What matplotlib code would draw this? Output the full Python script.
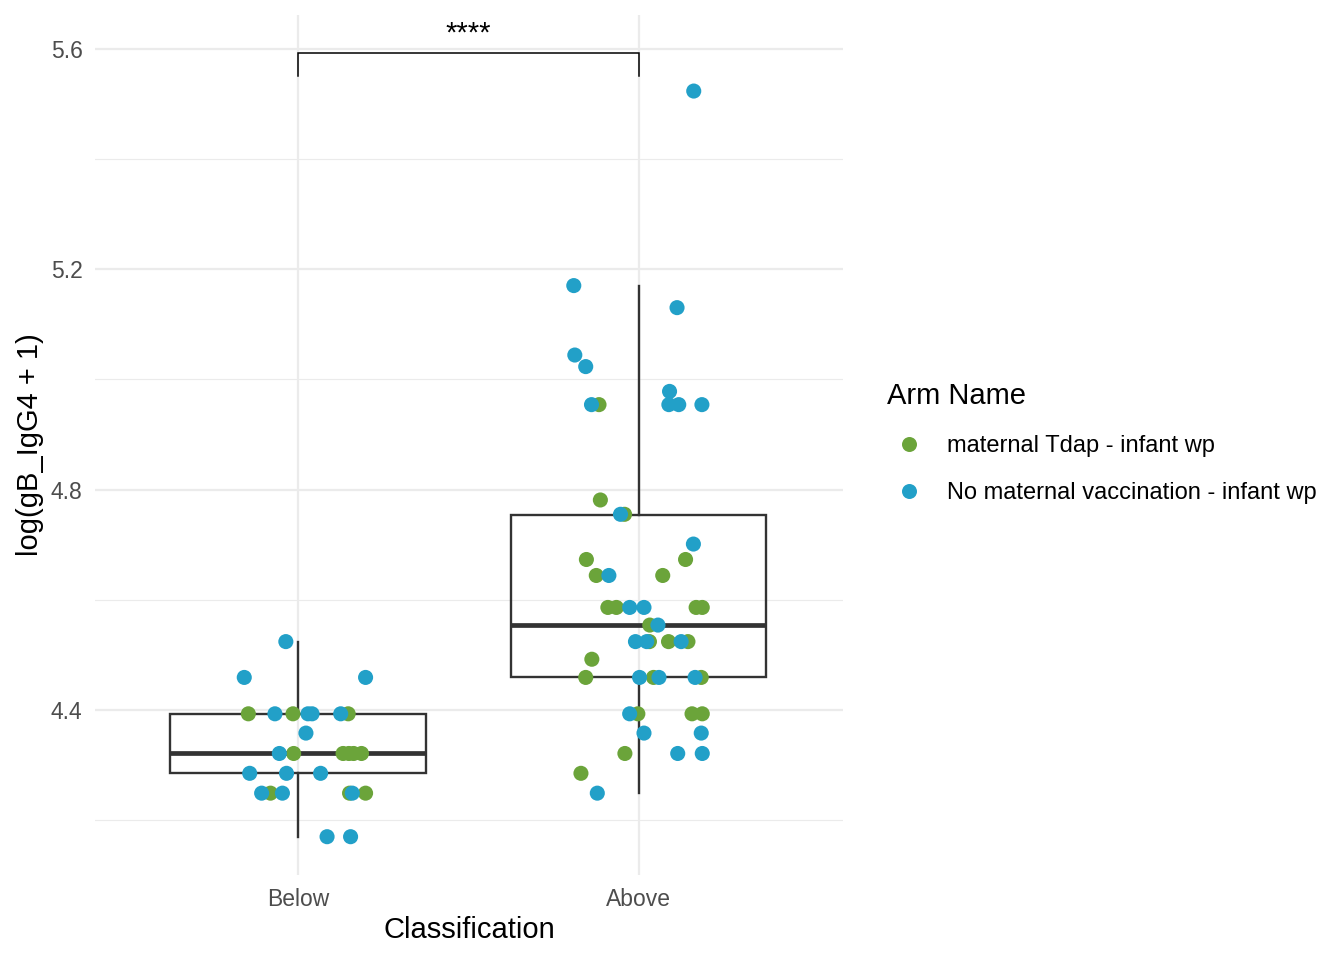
import matplotlib
matplotlib.use("Agg")
import matplotlib.pyplot as plt
from matplotlib.lines import Line2D

plt.rcParams["font.family"] = ["Liberation Sans", "DejaVu Sans"]

# ── Data ────────────────────────────────────────────────────
categories = ["Below", "Above"]
arm_names = ["maternal Tdap - infant wp", "No maternal vaccination - infant wp"]
arm_colors = ["#6BA43A", "#22A0C8"]

# box statistics per category (whisker low, q1, median, q3, whisker high)
whislo = [4.170, 4.249]
q1 = [4.285, 4.459]
med = [4.321, 4.554]
q3 = [4.393, 4.754]
whishi = [4.523, 5.169]

# jittered points: horizontal jitter offsets and log values
below_tdap_dx = [-0.145, -0.014, 0.148, -0.012, 0.133, 0.150, 0.164, 0.187,
                 -0.080, 0.152, 0.199]
below_tdap_y = [4.393, 4.393, 4.393, 4.321, 4.321, 4.321, 4.321, 4.321,
                4.249, 4.249, 4.249]
below_none_dx = [-0.035, -0.157, 0.199, -0.067, 0.030, 0.042, 0.126, 0.024,
                 -0.054, -0.141, -0.033, 0.067, -0.106, -0.045, 0.160,
                 0.086, 0.155]
below_none_y = [4.524, 4.459, 4.459, 4.393, 4.393, 4.393, 4.393, 4.358,
                4.321, 4.285, 4.285, 4.285, 4.249, 4.249, 4.249,
                4.170, 4.170]
above_tdap_dx = [-0.116, -0.112, -0.041, -0.153, 0.138, -0.124, 0.071,
                 -0.090, -0.065, 0.169, 0.187, 0.033, 0.032, 0.088, 0.145,
                 -0.137, -0.155, 0.044, 0.184, -0.002, 0.157, 0.187,
                 -0.040, -0.169]
above_tdap_y = [4.954, 4.781, 4.755, 4.673, 4.673, 4.644, 4.644,
                4.586, 4.586, 4.586, 4.586, 4.554, 4.524, 4.524, 4.524,
                4.492, 4.459, 4.459, 4.459, 4.393, 4.393, 4.393,
                4.321, 4.285]
above_none_dx = [0.162, -0.190, 0.113, -0.187, -0.155, 0.091, -0.138, 0.089,
                 0.118, 0.186, -0.053, 0.161, -0.087, -0.026, 0.016, 0.057,
                 -0.009, 0.024, 0.125, 0.003, 0.060, 0.166, -0.026, 0.016,
                 0.184, 0.115, 0.187, -0.121]
above_none_y = [5.523, 5.170, 5.130, 5.044, 5.023, 4.978, 4.954, 4.954,
                4.954, 4.954, 4.755, 4.701, 4.644, 4.586, 4.586, 4.554,
                4.524, 4.524, 4.524, 4.459, 4.459, 4.459, 4.393, 4.358,
                4.358, 4.321, 4.321, 4.249]

sig_label = "****"
sig_y = 5.592
sig_leg = 5.551

# ── Figure ──────────────────────────────────────────────────
fig = plt.figure(figsize=(13.44, 9.6), dpi=100)
ax = fig.add_axes([95 / 1344, 1 - 875 / 960, 748 / 1344, 860 / 960])

pos = [1, 2]
stats = [dict(whislo=whislo[i], q1=q1[i], med=med[i], q3=q3[i],
              whishi=whishi[i], fliers=[]) for i in range(2)]
ax.bxp(stats, positions=pos, widths=0.75, showfliers=False, showcaps=False,
       patch_artist=True,
       boxprops=dict(facecolor="none", edgecolor="#333333", linewidth=1.7),
       whiskerprops=dict(color="#333333", linewidth=1.7),
       medianprops=dict(color="#333333", linewidth=3.4, solid_capstyle="butt"),
       zorder=2)

groups = [
    (1, below_tdap_dx, below_tdap_y, 0),
    (2, above_tdap_dx, above_tdap_y, 0),
    (1, below_none_dx, below_none_y, 1),
    (2, above_none_dx, above_none_y, 1),
]
for center, dx, y, arm in groups:
    ax.scatter([center + d for d in dx], y, s=118, color=arm_colors[arm],
               edgecolors="none", zorder=3)

# significance bracket
ax.plot([1, 1, 2, 2], [sig_leg, sig_y, sig_y, sig_leg], color="black",
        linewidth=1.1, zorder=4, solid_joinstyle="miter")
ax.text(1.5, 5.628, sig_label, ha="center", va="center", fontsize=21,
        color="black")

ax.set_xlim(0.405, 2.6)
ax.set_ylim(4.1005, 5.661)
ax.set_xticks(pos)
ax.set_xticklabels(categories)
ax.set_yticks([4.4, 4.8, 5.2, 5.6])
ax.set_yticklabels(["4.4", "4.8", "5.2", "5.6"])
ax.set_yticks([4.2, 4.6, 5.0, 5.4], minor=True)
ax.grid(True, which="major", color="#EBEBEB", linewidth=1.6)
ax.grid(True, which="minor", axis="y", color="#EBEBEB", linewidth=0.8)
ax.set_axisbelow(True)
for s in ax.spines.values():
    s.set_visible(False)
ax.tick_params(axis="both", which="both", length=0, labelsize=16.5,
               labelcolor="#4D4D4D", pad=9)
ax.set_xlabel("Classification", fontsize=21, labelpad=4)
ax.set_ylabel("log(gB_IgG4 + 1)", fontsize=21, labelpad=5)

handles = [Line2D([], [], marker="o", linestyle="none", markersize=10.8,
                  markerfacecolor=c, markeredgecolor="none") for c in arm_colors]
leg = ax.legend(handles, arm_names, title="Arm Name", loc="center left",
                bbox_to_anchor=(878 / 1344, 1 - 443 / 960),
                bbox_transform=fig.transFigure, frameon=False, fontsize=17,
                title_fontsize=21, alignment="left", handlelength=1.86,
                handletextpad=0.68, labelspacing=1.08, borderaxespad=0)

fig.savefig("out.png", dpi=100)
